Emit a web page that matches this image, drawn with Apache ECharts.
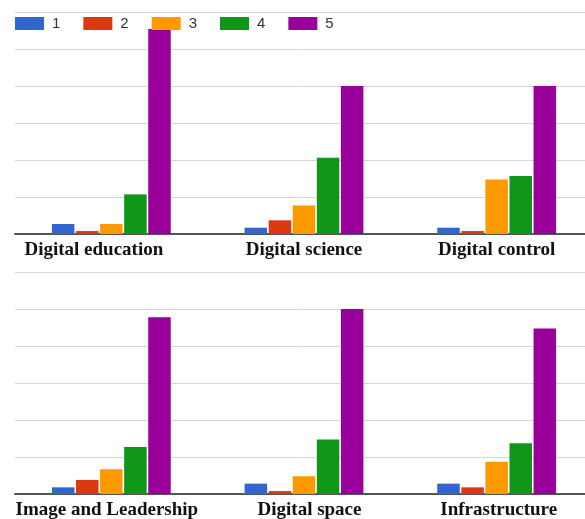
<!DOCTYPE html>
<html>
<head>
<meta charset="utf-8">
<script src="https://cdn.jsdelivr.net/npm/echarts@6/dist/echarts.min.js"></script>
<style>
  html, body { margin: 0; padding: 0; background: #fff; }
  #chart { width: 585px; height: 519px; }
</style>
</head>
<body>
<div id="chart"></div>
<script>
// levels of the scale (legend)
const levels = ['1', '2', '3', '4', '5'];
const colors = ['#3366cc', '#dc3912', '#ff9900', '#109618', '#990099'];

// top panel
const topCategories = ['Digital education', 'Digital science', 'Digital control'];
const topL1 = [2.7, 1.7, 1.7];
const topL2 = [0.8, 3.7, 0.8];
const topL3 = [2.7, 7.7, 14.7];
const topL4 = [10.7, 20.6, 15.7];
const topL5 = [55.4, 40, 40];

// bottom panel
const bottomCategories = ['Image and Leadership', 'Digital space', 'Infrastructure'];
const bottomL1 = [1.8, 2.8, 2.8];
const bottomL2 = [3.8, 0.8, 1.8];
const bottomL3 = [6.7, 4.8, 8.7];
const bottomL4 = [12.7, 14.7, 13.7];
const bottomL5 = [47.8, 50, 44.7];

const topValues = [topL1, topL2, topL3, topL4, topL5];
const bottomValues = [bottomL1, bottomL2, bottomL3, bottomL4, bottomL5];

const chart = echarts.init(document.getElementById('chart'));

function xAxis(gridIndex, cats, shifts) {
  const rich = {};
  shifts.forEach((s, i) => {
    rich['c' + i] = {
      fontFamily: 'Liberation Serif',
      fontWeight: 'bold',
      fontSize: 19,
      color: '#111',
      padding: s < 0 ? [0, -2 * s, 0, 0] : [0, 0, 0, 2 * s]
    };
  });
  return {
    type: 'category',
    gridIndex: gridIndex,
    data: cats,
    axisTick: { show: false },
    axisLine: { lineStyle: { color: '#555', width: 2 } },
    axisLabel: {
      margin: 7,
      interval: 0,
      hideOverlap: false,
      formatter: (v, i) => '{c' + i + '|' + v + '}',
      rich: rich
    }
  };
}

function yAxis(gridIndex) {
  return {
    type: 'value',
    gridIndex: gridIndex,
    min: 0,
    max: 60,
    interval: 10,
    axisLabel: { show: false },
    axisLine: { show: false },
    axisTick: { show: false },
    splitLine: { lineStyle: { color: '#d6d6d6', width: 1 } }
  };
}

const series = [];
[topValues, bottomValues].forEach((vals, g) => {
  vals.forEach((d, i) => {
    series.push({
      name: levels[i],
      type: 'bar',
      xAxisIndex: g,
      yAxisIndex: g,
      data: d,
      barWidth: 22.5,
      barGap: '7%',
      itemStyle: { color: colors[i] }
    });
  });
});

chart.setOption({
  animation: false,
  color: colors,
  legend: {
    data: levels,
    left: 10,
    top: 11,
    icon: 'rect',
    itemWidth: 29,
    itemHeight: 13,
    itemGap: 23,
    textStyle: {
      fontFamily: 'Liberation Sans',
      fontSize: 15,
      color: '#333',
      padding: [0, 0, 0, 3]
    }
  },
  grid: [
    { left: 15, top: 12, width: 578, height: 222, outerBoundsMode: 'none', containLabel: false },
    { left: 15, top: 272, width: 578, height: 222, outerBoundsMode: 'none', containLabel: false }
  ],
  xAxis: [
    xAxis(0, topCategories, [-17.5, 0, 0]),
    xAxis(1, bottomCategories, [-4.5, 5.5, 2])
  ],
  yAxis: [yAxis(0), yAxis(1)],
  series: series
});
</script>
</body>
</html>
